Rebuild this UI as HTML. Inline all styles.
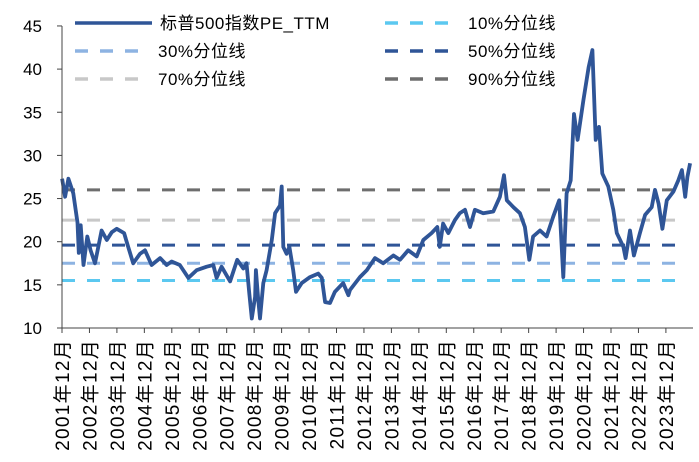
<!DOCTYPE html>
<html><head><meta charset="utf-8"><style>
html,body{margin:0;padding:0;background:#fff;}
svg{display:block;font-family:"Liberation Sans","Noto Sans CJK SC",sans-serif;}
</style></head><body>
<svg id="chart" width="699" height="462" xmlns="http://www.w3.org/2000/svg">
<g id="grid"></g><g id="series"></g><g id="axes"></g><g id="legend"></g>
</svg>
<script>
const yTicks=[10,15,20,25,30,35,40,45];
const xYears=[2001,2002,2003,2004,2005,2006,2007,2008,2009,2010,2011,2012,2013,2014,2015,2016,2017,2018,2019,2020,2021,2022,2023];
const quantileNames=["10%分位线","30%分位线","50%分位线","70%分位线","90%分位线"];
const quantileValues=[15.5,17.5,19.6,22.5,26.0];
const seriesTimes=[2001.92,2002.03,2002.15,2002.33,2002.48,2002.53,2002.6,2002.7,2002.84,2002.96,2003.12,2003.36,2003.55,2003.73,2003.91,2004.18,2004.33,2004.51,2004.76,2004.94,2005.18,2005.49,2005.73,2005.91,2006.21,2006.52,2006.82,2007.19,2007.43,2007.55,2007.73,2008.04,2008.3,2008.52,2008.64,2008.74,2008.83,2008.95,2008.98,2009.07,2009.13,2009.25,2009.37,2009.56,2009.68,2009.86,2009.92,2009.98,2010.1,2010.2,2010.34,2010.44,2010.65,2010.95,2011.25,2011.38,2011.5,2011.68,2011.86,2012.16,2012.35,2012.41,2012.77,2013.02,2013.32,2013.62,2013.99,2014.23,2014.53,2014.84,2015.08,2015.38,2015.59,2015.68,2015.8,2015.99,2016.23,2016.41,2016.6,2016.78,2016.96,2017.26,2017.63,2017.87,2018.02,2018.12,2018.36,2018.6,2018.78,2018.94,2019.08,2019.33,2019.57,2019.81,2020.03,2020.18,2020.3,2020.45,2020.57,2020.7,2020.91,2021.1,2021.24,2021.36,2021.48,2021.6,2021.82,2022.0,2022.13,2022.37,2022.45,2022.61,2022.75,2022.97,2023.16,2023.4,2023.52,2023.65,2023.79,2023.95,2024.19,2024.37,2024.5,2024.62,2024.7,2024.8];
const seriesValues=[27.3,25.2,27.3,25.6,22.2,18.7,21.9,17.3,20.6,19.0,17.5,21.3,20.2,21.1,21.5,21.0,19.4,17.5,18.6,19.0,17.3,18.1,17.3,17.7,17.3,15.8,16.7,17.1,17.3,15.8,17.1,15.4,17.9,16.9,17.5,14.0,11.1,13.6,16.7,13.2,11.1,15.2,16.7,20.2,23.3,24.2,26.4,19.4,18.6,19.4,16.7,14.2,15.2,15.9,16.3,15.8,13.0,12.9,14.2,15.2,13.8,14.4,15.9,16.7,18.1,17.5,18.4,17.9,19.0,18.3,20.2,21.0,21.7,19.4,22.1,21.0,22.5,23.3,23.7,21.7,23.7,23.3,23.5,25.2,27.7,24.8,24.0,23.3,21.7,17.9,20.6,21.3,20.6,22.9,24.8,15.9,25.6,27.1,34.8,31.8,36.4,40.2,42.2,31.8,33.3,27.9,26.4,23.7,21.0,19.4,18.1,21.3,18.4,21.0,23.1,24.0,26.0,24.4,21.5,24.8,25.8,27.1,28.3,25.2,27.5,29.1];
const qColors=["#5BC8F0","#8DB3E2","#2F5597","#C8C8C8","#6E6E6E"];
const NS="http://www.w3.org/2000/svg";
const X0=62,YPX=27.45,T0=2001.917;
function sx(t){return X0+(t-T0)*YPX;}
function sy(v){return 328-(v-10)*8.63;}
function mk(tag,attrs,parent,text){const e=document.createElementNS(NS,tag);for(const k in attrs)e.setAttribute(k,attrs[k]);if(text!==undefined)e.textContent=text;document.getElementById(parent).appendChild(e);return e;}
quantileValues.forEach((q,i)=>{
 const l=mk('line',{x1:X0,x2:681,y1:sy(q),y2:sy(q),stroke:qColors[i],'stroke-width':3,'stroke-dasharray':'13,12'},'grid');
 
 
});
let d='';seriesTimes.forEach((t,i)=>{d+=(i?'L':'M')+sx(t).toFixed(1)+','+sy(seriesValues[i]).toFixed(1);});
const p=mk('path',{d:d,fill:'none',stroke:'#2F5597','stroke-width':3.8,'stroke-linejoin':'round'},'series');


const ya=mk('line',{x1:X0,x2:X0,y1:sy(45),y2:328,stroke:'#444','stroke-width':1},'axes');


const xa=mk('line',{x1:X0,x2:693,y1:328,y2:328,stroke:'#444','stroke-width':1},'axes');


yTicks.forEach(v=>{
 mk('line',{x1:X0-5,x2:X0,y1:sy(v),y2:sy(v),stroke:'#444'},'axes');
 const t=mk('text',{x:42,y:sy(v)+6,'text-anchor':'end','font-size':17,fill:'#000'},'axes',String(v));
 
 
});
xYears.forEach((yr,i)=>{
 const x=sx(T0+i);
 mk('line',{x1:x,x2:x,y1:328,y2:333,stroke:'#444'},'axes');
 const t=mk('text',{x:0,y:0,transform:'translate('+(x+7)+',339) rotate(-90)','text-anchor':'end','font-size':19,'letter-spacing':1.3,fill:'#000'},'axes',yr+'年12月');
 
 
});
const leg=[[75,23,'标普500指数PE_TTM','#2F5597',true],[385,23,quantileNames[0],qColors[0],false],[75,51,quantileNames[1],qColors[1],false],[385,51,quantileNames[2],qColors[2],false],[75,79,quantileNames[3],qColors[3],false],[385,79,quantileNames[4],qColors[4],false]];
leg.forEach(e=>{
 const g=mk('g',{},'legend');
 
 
 const l=document.createElementNS(NS,'line');
 const attrs=e[4]?{x1:e[0],x2:e[0]+77,y1:e[1],y2:e[1],stroke:e[3],'stroke-width':3.5}:{x1:e[0],x2:e[0]+66,y1:e[1],y2:e[1],stroke:e[3],'stroke-width':3.5,'stroke-dasharray':'13,12'};
 for(const k in attrs)l.setAttribute(k,attrs[k]);g.appendChild(l);
 const t=document.createElementNS(NS,'text');
 t.setAttribute('x',e[4]?e[0]+85:e[0]+83);t.setAttribute('y',e[1]+6);t.setAttribute('font-size',17);t.setAttribute('letter-spacing',0.5);
 t.textContent=e[2];g.appendChild(t);
});
</script>
</body></html>
